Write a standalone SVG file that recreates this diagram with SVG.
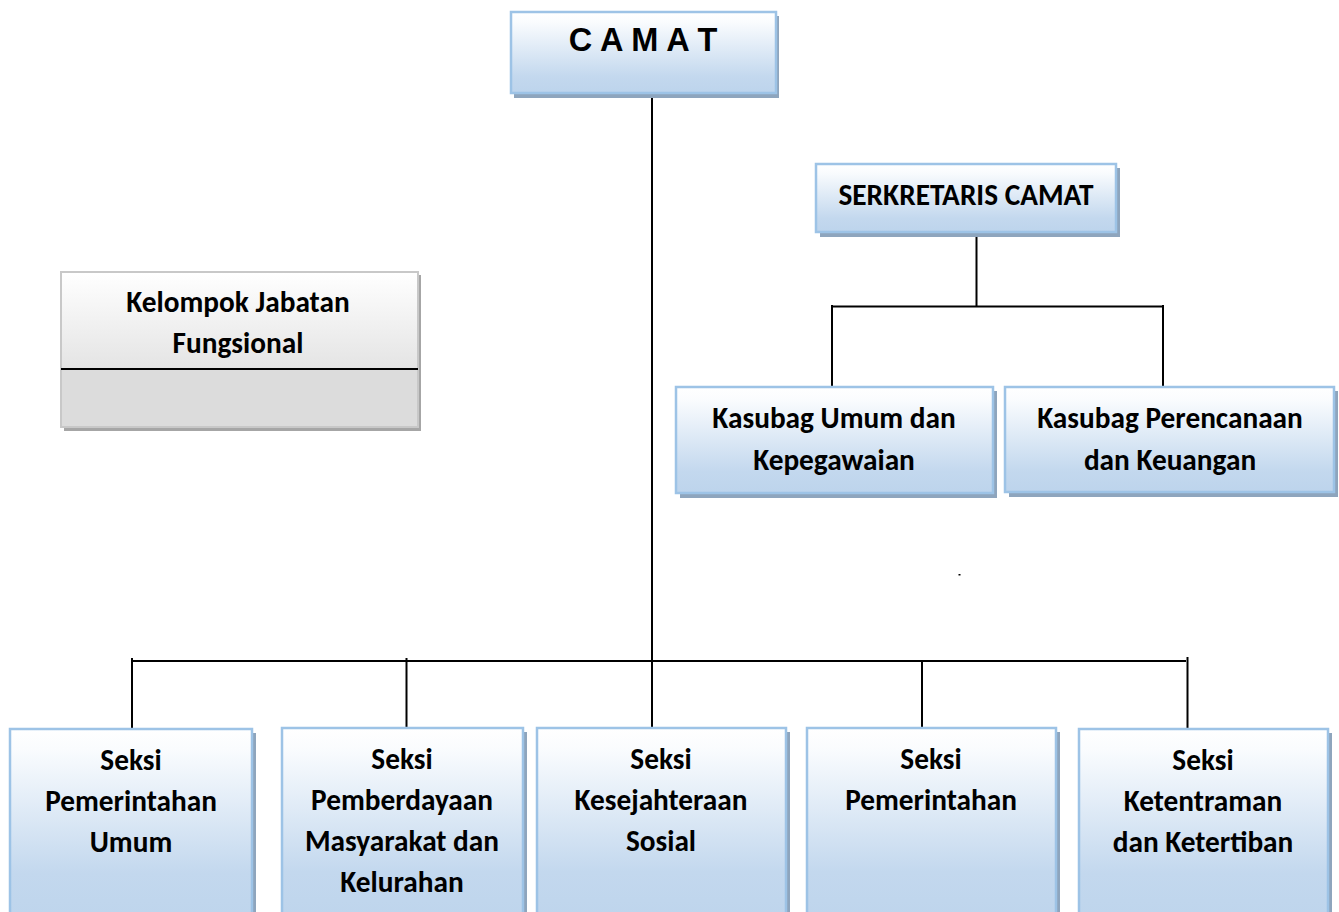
<svg xmlns="http://www.w3.org/2000/svg" width="1339" height="912" viewBox="0 0 1339 912">
<defs>
<linearGradient id="gBlue" x1="0" y1="0" x2="0" y2="1">
<stop offset="0" stop-color="#ffffff"/>
<stop offset="0.12" stop-color="#fafcfe"/>
<stop offset="0.8" stop-color="#c3d8ee"/>
<stop offset="1" stop-color="#bdd4ec"/>
</linearGradient>
<linearGradient id="gBlueTall" x1="0" y1="0" x2="0" y2="1">
<stop offset="0" stop-color="#ffffff"/>
<stop offset="0.1" stop-color="#fafcfe"/>
<stop offset="0.72" stop-color="#c3d8ee"/>
<stop offset="1" stop-color="#bdd4ec"/>
</linearGradient>
<linearGradient id="gGray" x1="0" y1="0" x2="0" y2="1">
<stop offset="0" stop-color="#ffffff"/>
<stop offset="1" stop-color="#e4e4e4"/>
</linearGradient>
<style>
.shadow{fill:#8ea5bd}
.box{stroke:#9dc3e6;stroke-width:2.5}
.gshadow{fill:#a6a6a6}
.lbl{font-family:"Carlito","Lato","Noto Sans",sans-serif;font-weight:700;font-size:29.3px;fill:#000;text-anchor:middle}
.camat{font-family:"Liberation Sans",Arial,sans-serif;font-weight:700;font-size:32.5px;fill:#000;text-anchor:middle}
.ln{stroke:#000;stroke-width:2;fill:none}
</style>
</defs>

<g id="connectors">
<line class="ln" x1="652" y1="95" x2="652" y2="727"/>
<line class="ln" x1="131" y1="661" x2="1186" y2="661"/>
<line class="ln" x1="132" y1="658" x2="132" y2="731"/>
<line class="ln" x1="406.5" y1="658" x2="406.5" y2="729"/>
<line class="ln" x1="922" y1="661" x2="922" y2="733"/>
<line class="ln" x1="1187.5" y1="657" x2="1187.5" y2="729"/>
<line class="ln" x1="976.5" y1="237" x2="976.5" y2="307"/>
<line class="ln" x1="831" y1="306.5" x2="1163" y2="306.5"/>
<line class="ln" x1="832" y1="305" x2="832" y2="388"/>
<line class="ln" x1="1163" y1="305" x2="1163" y2="388"/>
</g>

<g id="node-camat">
<rect class="shadow" x="514" y="16" width="265" height="82"/>
<rect class="box" x="511" y="12" width="265" height="81" fill="url(#gBlue)"/>
<text class="camat" x="643" y="51">C A M A T</text>
</g>

<g id="node-sekretaris">
<rect class="shadow" x="820" y="168" width="300" height="69"/>
<rect class="box" x="816" y="164" width="300" height="68" fill="url(#gBlue)"/>
<text class="lbl" x="966" y="205">SERKRETARIS CAMAT</text>
</g>

<g id="node-fungsional">
<rect class="gshadow" x="64" y="275" width="357" height="156"/>
<rect x="61" y="272" width="357" height="97" fill="url(#gGray)" stroke="#c8c8c8" stroke-width="2"/>
<rect x="61" y="369" width="357" height="58" fill="#dcdcdc" stroke="#c8c8c8" stroke-width="2"/>
<line x1="61" y1="369" x2="418" y2="369" stroke="#000" stroke-width="2"/>
<text class="lbl" x="238" y="312">Kelompok Jabatan</text>
<text class="lbl" x="238" y="353">Fungsional</text>
</g>

<g id="node-kasubag-umum">
<rect class="shadow" x="680" y="391" width="317" height="107"/>
<rect class="box" x="676" y="387" width="317" height="106" fill="url(#gBlue)"/>
<text class="lbl" x="834" y="428">Kasubag Umum dan</text>
<text class="lbl" x="834" y="470">Kepegawaian</text>
</g>

<g id="node-kasubag-perencanaan">
<rect class="shadow" x="1009" y="391" width="329" height="106"/>
<rect class="box" x="1005" y="387" width="329" height="105" fill="url(#gBlue)"/>
<text class="lbl" x="1170" y="428">Kasubag Perencanaan</text>
<text class="lbl" x="1170" y="470">dan Keuangan</text>
</g>

<g id="node-seksi-pemerintahan-umum">
<rect class="shadow" x="14" y="733" width="242" height="200"/>
<rect class="box" x="10" y="729" width="242" height="200" fill="url(#gBlueTall)"/>
<text class="lbl" x="131" y="770">Seksi</text>
<text class="lbl" x="131" y="811">Pemerintahan</text>
<text class="lbl" x="131" y="852">Umum</text>
</g>

<g id="node-seksi-pemberdayaan">
<rect class="shadow" x="286" y="732" width="241" height="200"/>
<rect class="box" x="282" y="728" width="241" height="200" fill="url(#gBlueTall)"/>
<text class="lbl" x="402" y="769">Seksi</text>
<text class="lbl" x="402" y="810">Pemberdayaan</text>
<text class="lbl" x="402" y="851">Masyarakat dan</text>
<text class="lbl" x="402" y="892">Kelurahan</text>
</g>

<g id="node-seksi-kesejahteraan">
<rect class="shadow" x="541" y="732" width="249" height="200"/>
<rect class="box" x="537" y="728" width="249" height="200" fill="url(#gBlueTall)"/>
<text class="lbl" x="661" y="769">Seksi</text>
<text class="lbl" x="661" y="810">Kesejahteraan</text>
<text class="lbl" x="661" y="851">Sosial</text>
</g>

<g id="node-seksi-pemerintahan">
<rect class="shadow" x="811" y="732" width="249" height="200"/>
<rect class="box" x="807" y="728" width="249" height="200" fill="url(#gBlueTall)"/>
<text class="lbl" x="931" y="769">Seksi</text>
<text class="lbl" x="931" y="810">Pemerintahan</text>
</g>

<g id="node-seksi-ketentraman">
<rect class="shadow" x="1083" y="733" width="249" height="200"/>
<rect class="box" x="1079" y="729" width="249" height="200" fill="url(#gBlueTall)"/>
<text class="lbl" x="1203" y="770">Seksi</text>
<text class="lbl" x="1203" y="811">Ketentraman</text>
<text class="lbl" x="1203" y="852">dan Ketertiban</text>
</g>

<rect x="958.5" y="574" width="2" height="1.5" fill="#000"/>
</svg>
